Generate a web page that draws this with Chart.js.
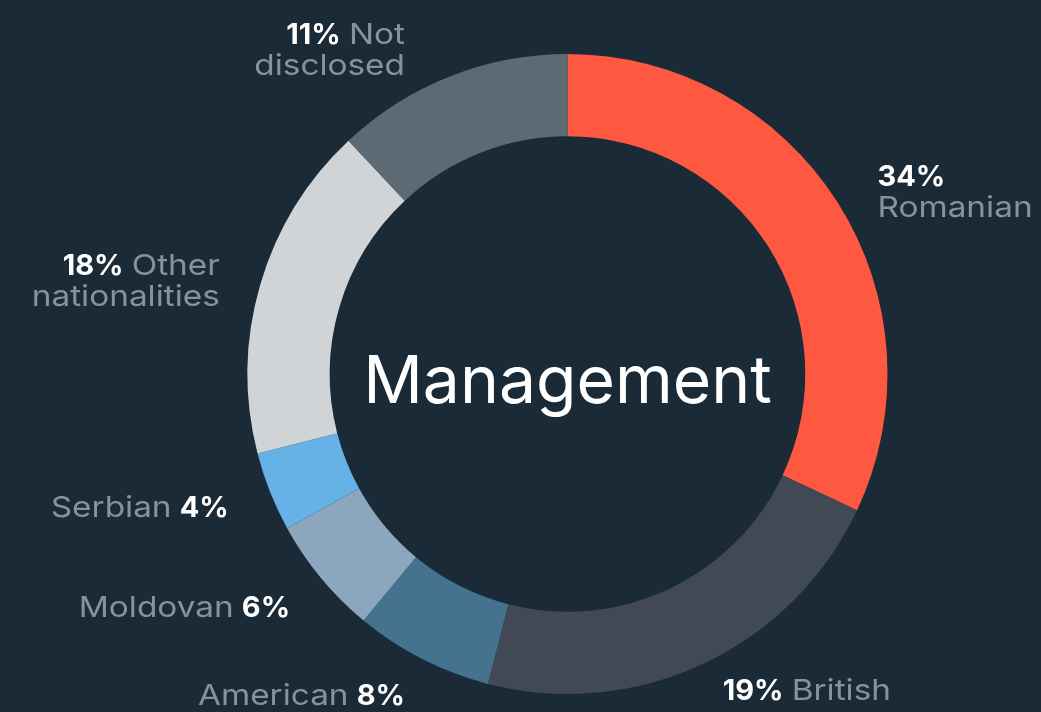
<!DOCTYPE html>
<html>
<head>
<meta charset="utf-8">
<script src="https://cdn.jsdelivr.net/npm/chart.js@4"></script>
<style>
    html, body { margin: 0; padding: 0; background: #1b2a37; }
    #wrap { width: 1041px; height: 712px; position: relative; }
</style>
</head>
<body>
<div id="wrap"><canvas id="mgmtChart"></canvas></div>
<script>
const categories = ['Romanian', 'British', 'American', 'Moldovan', 'Serbian', 'Other nationalities', 'Not disclosed'];
// slice sizes as drawn in the picture
const shares = [32, 22, 7, 6, 4, 17, 12];
// percentages as printed on the labels
const shareLabels = ['34%', '19%', '8%', '6%', '4%', '18%', '11%'];
const centerTitle = 'Management';

const colors = ['#ff5840', '#414a54', '#45738f', '#8ca7bd', '#66b2e6', '#d1d4d7', '#5e6a73'];
// label templates: % = share, * = full name, A = first word, B = rest; \n breaks line
const labelLayout = [
    { tpl: '%\n*', dx: 6, dy: 10 },
    { tpl: '% *', dx: 2, dy: -10 },
    { tpl: '* %', dx: 1, dy: 0 },
    { tpl: '* %', dx: 0, dy: 3 },
    { tpl: '* %', dx: -4, dy: 0 },
    { tpl: '% A\nB', dx: -2, dy: 6 },
    { tpl: '% A\nB', dx: -30, dy: 10 }
];

const FONT = 'Inter, "Noto Sans", sans-serif';
const LABEL_SIZE = 29;
const LINE_H = 31;
const CAP_H = 21;
const REG_STRETCH = 1.15;

function buildLines(tpl, name, pct) {
    const sp = name.indexOf(' ');
    const a = sp > 0 ? name.slice(0, sp) : name;
    const b = sp > 0 ? name.slice(sp + 1) : '';
    return tpl.split('\n').map(line => {
        const runs = [];
        line.split(' ').forEach((tok, i) => {
            if (i > 0) runs.push({ text: ' ', bold: false, space: true });
            if (tok === '%') runs.push({ text: pct, bold: true });
            else if (tok === '*') runs.push({ text: name, bold: false });
            else if (tok === 'A') runs.push({ text: a, bold: false });
            else if (tok === 'B') runs.push({ text: b, bold: false });
        });
        return runs;
    });
}

function setFont(ctx, bold) {
    ctx.font = (bold ? '700 ' : '400 ') + LABEL_SIZE + 'px ' + FONT;
}

const outsideLabels = {
    id: 'outsideLabels',
    afterDatasetsDraw(chart) {
        const ctx = chart.ctx;
        const meta = chart.getDatasetMeta(0);
        ctx.save();
        ctx.textBaseline = 'alphabetic';
        ctx.textAlign = 'left';
        meta.data.forEach((arc, i) => {
            const p = arc.getProps(['x', 'y', 'startAngle', 'endAngle', 'outerRadius'], true);
            const mid = (p.startAngle + p.endAngle) / 2;
            const r = p.outerRadius + 40;
            const lay = labelLayout[i];
            const ax = p.x + Math.cos(mid) * r + lay.dx;
            const ay = p.y + Math.sin(mid) * r + lay.dy;
            const rightSide = Math.cos(mid) >= 0;
            const lines = buildLines(lay.tpl, categories[i], shareLabels[i]);
            const blockH = CAP_H + (lines.length - 1) * LINE_H;
            let baseY = ay - blockH / 2 + CAP_H;
            lines.forEach(runs => {
                const widths = runs.map(run => {
                    setFont(ctx, run.bold);
                    const w = ctx.measureText(run.text).width;
                    return (run.bold || run.space) ? w : w * REG_STRETCH;
                });
                const total = widths.reduce((s, w) => s + w, 0);
                let x = rightSide ? ax : ax - total;
                runs.forEach((run, k) => {
                    if (!run.space) {
                        setFont(ctx, run.bold);
                        ctx.fillStyle = run.bold ? '#ffffff' : '#89929a';
                        if (run.bold) {
                            ctx.fillText(run.text, x, baseY);
                        } else {
                            ctx.save();
                            ctx.translate(x, baseY);
                            ctx.scale(REG_STRETCH, 1);
                            ctx.fillText(run.text, 0, 0);
                            ctx.restore();
                        }
                    }
                    x += widths[k];
                });
                baseY += LINE_H;
            });
        });
        // center title
        const c = meta.data[0];
        ctx.font = '400 66px ' + FONT;
        ctx.fillStyle = '#ffffff';
        ctx.textAlign = 'center';
        ctx.fillText(centerTitle, c.x, c.y + 29);
        ctx.restore();
    }
};

new Chart(document.getElementById('mgmtChart'), {
    type: 'doughnut',
    data: {
        labels: categories,
        datasets: [{
            data: shares,
            backgroundColor: colors,
            borderWidth: 0
        }]
    },
    options: {
        responsive: true,
        maintainAspectRatio: false,
        animation: false,
        cutout: '74.3%',
        layout: { padding: { top: 54, bottom: 18, left: 94, right: 0 } },
        plugins: {
            legend: { display: false },
            tooltip: { enabled: false }
        }
    },
    plugins: [outsideLabels]
});
</script>
</body>
</html>
